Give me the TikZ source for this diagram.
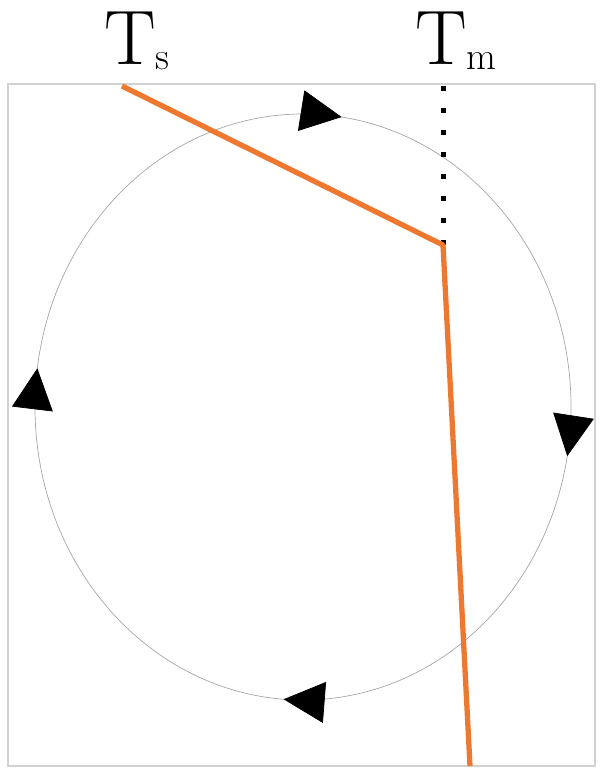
\documentclass[tikz,border=0pt]{standalone}
\usepackage{amsmath, amssymb}
\usepackage{xcolor}
\usepackage{tikz}
\usetikzlibrary{calc, arrows.meta, decorations.markings, positioning}

\definecolor{bendorange}{RGB}{238,120,48}

\newcommand{\bigT}[1]{{\fontsize{44}{46}\selectfont T}\raisebox{-0.3em}{\fontsize{22}{24}\selectfont #1}}

\begin{document}
\begin{tikzpicture}[x=0.02cm, y=-0.02cm,
    orangeline/.style={line width=3pt, color=bendorange},
    cycleline/.style={line width=0.4pt, color=gray!70},
    tlabel/.style={inner sep=0pt}]
            \useasboundingbox (0,0) rectangle (599,768);
            % 1. Khung
            \draw[gray!35, line width=1pt] (8,84) rectangle (595,766);

            % 2. Vong tuan hoan
            \draw[cycleline, postaction={decorate}, decoration={markings,
                mark=at position 0.022 with {\arrow[black]{Triangle[length=0.82cm, width=0.82cm]}},
                mark=at position 0.272 with {\arrow[black]{Triangle[length=0.82cm, width=0.82cm]}},
                mark=at position 0.528 with {\arrow[black]{Triangle[length=0.82cm, width=0.82cm]}},
                mark=at position 0.761 with {\arrow[black]{Triangle[length=0.82cm, width=0.82cm]}}}]
                (35,407) arc[start angle=180, end angle=540, x radius=268, y radius=293];

            % 3. Duong nhiet do
            \coordinate (top) at (122,86);
            \coordinate (knee) at (443,245);
            \coordinate (bottom) at (470,766);
            \coordinate (mtop) at (443,86);
            \draw[line width=0.1cm, dash pattern=on 0.1cm off 0.34cm] (knee) -- (mtop);
            \draw[orangeline, line join=round] (top) -- (knee) -- (bottom);

            % 4. Nhan
            \node[tlabel, anchor=base west] (Ts) at (104,64) {\bigT{s}};
            \node[tlabel, anchor=base west] (Tm) at (415,64) {\bigT{m}};
        \end{tikzpicture}
\end{document}
